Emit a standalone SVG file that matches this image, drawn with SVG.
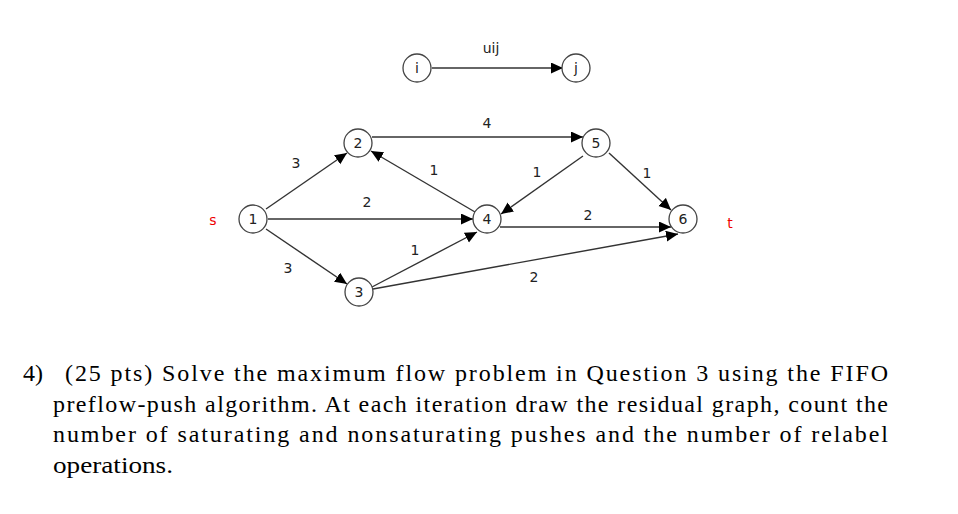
<svg xmlns="http://www.w3.org/2000/svg" width="958" height="514" viewBox="0 0 958 514">
<style>
.node circle{fill:#fff;stroke:#444;stroke-width:1.3}
.node text,.lbl{font-family:"DejaVu Sans","Verdana",sans-serif;font-size:14px;fill:#222;text-anchor:middle}
.edge{stroke:#333;stroke-width:1.4;fill:none;marker-end:url(#ah)}
.red{font-family:"DejaVu Sans",sans-serif;font-size:14px;fill:#e00;text-anchor:middle}
.q{font-family:"Liberation Serif","DejaVu Serif",serif;font-size:24px;fill:#000}
</style>
<defs>
<marker id="ah" markerUnits="userSpaceOnUse" markerWidth="14" markerHeight="12" refX="12" refY="5.5" orient="auto">
<path d="M0,0 L12,5.5 L0,11 Z" fill="#000"/>
</marker>
</defs>
<rect width="958" height="514" fill="#fff"/>
<g id="connectors">
<line class="edge" x1="432" y1="68" x2="563" y2="68"/>
<line class="edge" x1="266" y1="209" x2="347" y2="153"/>
<line class="edge" x1="266" y1="229" x2="347" y2="284"/>
<line class="edge" x1="268" y1="219" x2="473" y2="219"/>
<line class="edge" x1="372" y1="137" x2="583" y2="137"/>
<line class="edge" x1="475" y1="212" x2="371" y2="151"/>
<line class="edge" x1="583" y1="156" x2="501" y2="214"/>
<line class="edge" x1="609" y1="153" x2="671" y2="210"/>
<line class="edge" x1="500" y1="227" x2="671" y2="227"/>
<line class="edge" x1="373" y1="289" x2="678" y2="234"/>
<line class="edge" x1="372" y1="287" x2="477" y2="232"/>
</g>
<g id="edge-labels">
<text class="lbl" x="491" y="53">uij</text>
<text class="lbl" x="296" y="168">3</text>
<text class="lbl" x="367" y="207">2</text>
<text class="lbl" x="434" y="175">1</text>
<text class="lbl" x="288" y="273">3</text>
<text class="lbl" x="415" y="255">1</text>
<text class="lbl" x="487" y="128">4</text>
<text class="lbl" x="537" y="177">1</text>
<text class="lbl" x="647" y="178">1</text>
<text class="lbl" x="588" y="220">2</text>
<text class="lbl" x="534" y="282">2</text>
<text class="red" x="213" y="225">s</text>
<text class="red" x="730" y="228">t</text>
</g>
<g id="node-i" class="node"><circle cx="417" cy="68" r="14"/><text x="417" y="73">i</text></g>
<g id="node-j" class="node"><circle cx="576" cy="68" r="14"/><text x="576" y="73">j</text></g>
<g id="node-1" class="node"><circle cx="253" cy="219" r="14"/><text x="253" y="224">1</text></g>
<g id="node-2" class="node"><circle cx="358" cy="143" r="14"/><text x="358" y="148">2</text></g>
<g id="node-3" class="node"><circle cx="359" cy="292" r="14"/><text x="359" y="297">3</text></g>
<g id="node-4" class="node"><circle cx="487" cy="219" r="14"/><text x="487" y="224">4</text></g>
<g id="node-5" class="node"><circle cx="596" cy="143" r="14"/><text x="596" y="148">5</text></g>
<g id="node-6" class="node"><circle cx="683" cy="219" r="14"/><text x="683" y="224">6</text></g>
<g id="question">
<text class="q" x="23" y="381">4)</text>
<text class="q" x="65" y="381" textLength="823" lengthAdjust="spacing">(25 pts) Solve the maximum flow problem in Question 3 using the FIFO</text>
<text class="q" x="53" y="412" textLength="835" lengthAdjust="spacing">preflow-push algorithm. At each iteration draw the residual graph, count the</text>
<text class="q" x="53" y="442" textLength="835" lengthAdjust="spacing">number of saturating and nonsaturating pushes and the number of relabel</text>
<text class="q" x="53" y="473" textLength="120" lengthAdjust="spacingAndGlyphs">operations.</text>
</g>
</svg>
